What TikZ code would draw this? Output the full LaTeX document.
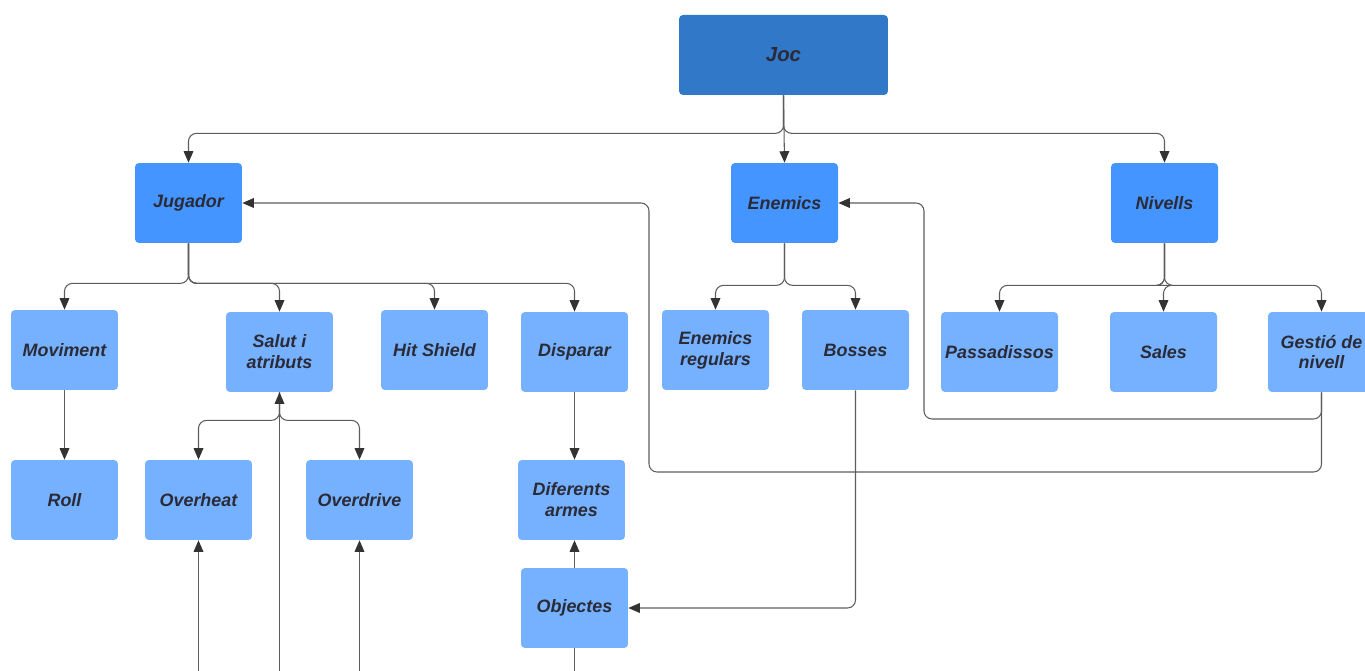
\documentclass[tikz,border=0pt]{standalone}
\usepackage{fontspec}
\setmainfont{Liberation Sans}
\usepackage{xcolor}
\usetikzlibrary{arrows.meta,positioning}

\definecolor{joccol}{HTML}{3178C8}
\definecolor{midcol}{HTML}{4495FF}
\definecolor{lowcol}{HTML}{75B1FF}
\definecolor{txtcol}{HTML}{2B2B38}
\definecolor{linecol}{HTML}{5C5C5C}
\definecolor{tipcol}{HTML}{333333}

\begin{document}
\begin{tikzpicture}[x=0.02cm,y=-0.02cm,>={Triangle[width=5.5pt,length=6.5pt,color=tipcol]},
  font=\fontsize{10.2}{11.9}\selectfont\bfseries\itshape]
  \tikzstyle{box}=[rounded corners=0.08cm,text=txtcol,align=center,
    minimum width=2.14cm,minimum height=1.6cm,inner sep=1pt]
  \tikzstyle{topbox}=[box,fill=joccol,minimum width=4.18cm,
    font=\fontsize{11.6}{13}\selectfont\bfseries\itshape]
  \tikzstyle{midbox}=[box,fill=midcol]
  \tikzstyle{lowbox}=[box,fill=lowcol]
  \tikzstyle{conn}=[draw=linecol,line width=0.6pt,rounded corners=0.16cm]

  \useasboundingbox (0,0) rectangle (1365,671);
  \clip (0,0) rectangle (1365,671);

  % levels
  \node[topbox] (joc)      at (783.5,55)  {Joc};
  \node[midbox] (jugador)  at (188.5,203) {Jugador};
  \node[midbox] (enemics)  at (784.5,203) {Enemics};
  \node[midbox] (nivells)  at (1164.5,203) {Nivells};

  \node[lowbox] (moviment) at (64.5,350)  {Moviment};
  \node[lowbox] (salut)    at (279.5,352) {Salut i\\atributs};
  \node[lowbox] (hitshield) at (434.5,350) {Hit Shield};
  \node[lowbox] (disparar) at (574.5,352) {Disparar};
  \node[lowbox] (regulars) at (715.5,350) {Enemics\\regulars};
  \node[lowbox] (bosses)   at (855.5,350) {Bosses};
  \node[lowbox,minimum width=2.34cm] (passadissos) at (999.5,352) {Passadissos};
  \node[lowbox] (sales)    at (1163.5,352) {Sales};
  \node[lowbox] (gestio)   at (1321.5,352) {Gesti\'o de\\nivell};

  \node[lowbox] (roll)     at (64.5,500)  {Roll};
  \node[lowbox] (overheat) at (198.5,500) {Overheat};
  \node[lowbox] (overdrive) at (359.5,500) {Overdrive};
  \node[lowbox] (armes)    at (571.5,500) {Diferents\\armes};
  \node[lowbox] (objectes) at (574.5,608) {Objectes};

  \coordinate (inheat)  at (198.5,690);
  \coordinate (insalut) at (279.5,690);
  \coordinate (indrive) at (359.5,690);
  \coordinate (outobj)  at (574.5,690);
  \coordinate (loopE)   at (924,419);
  \coordinate (loopJ)   at (649,472);

  % tree
  \draw[conn,->] (joc.south) -- ++(0,38) -| (jugador.north);
  \draw[conn,->] (joc.south) -- (enemics.north);
  \draw[conn,->] (joc.south) -- ++(0,38) -| (nivells.north);

  \foreach \t in {moviment,salut,hitshield,disparar}
    \draw[conn,->] (jugador.south) -- ++(0,40) -| (\t.north);
  \foreach \t in {regulars,bosses}
    \draw[conn,->] (enemics.south) -- ++(0,42) -| (\t.north);
  \foreach \t in {passadissos,sales,gestio}
    \draw[conn,->] (nivells.south) -- ++(0,42) -| (\t.north);

  \draw[conn,->] (moviment.south) -- (roll.north);
  \draw[conn,->] (salut.south) -- ++(0,28) -| (overheat.north);
  \draw[conn,->] (salut.south) -- ++(0,28) -| (overdrive.north);
  \draw[conn,->] (disparar.south) -- (disparar.south |- armes.north);
  \draw[conn,->] (objectes.north) -- (objectes.north |- armes.south);

  % links from below
  \draw[conn,->] (inheat) -- (overheat.south);
  \draw[conn,->] (insalut) -- (salut.south);
  \draw[conn,->] (indrive) -- (overdrive.south);
  \draw[conn] (objectes.south) -- (outobj);

  % cross links
  \draw[conn,->] (bosses.south) |- (objectes.east);
  \draw[conn,->] (gestio.south) |- (loopE) |- (enemics.east);
  \draw[conn,->] (gestio.south) |- (loopJ) |- (jugador.east);
\end{tikzpicture}
\end{document}
